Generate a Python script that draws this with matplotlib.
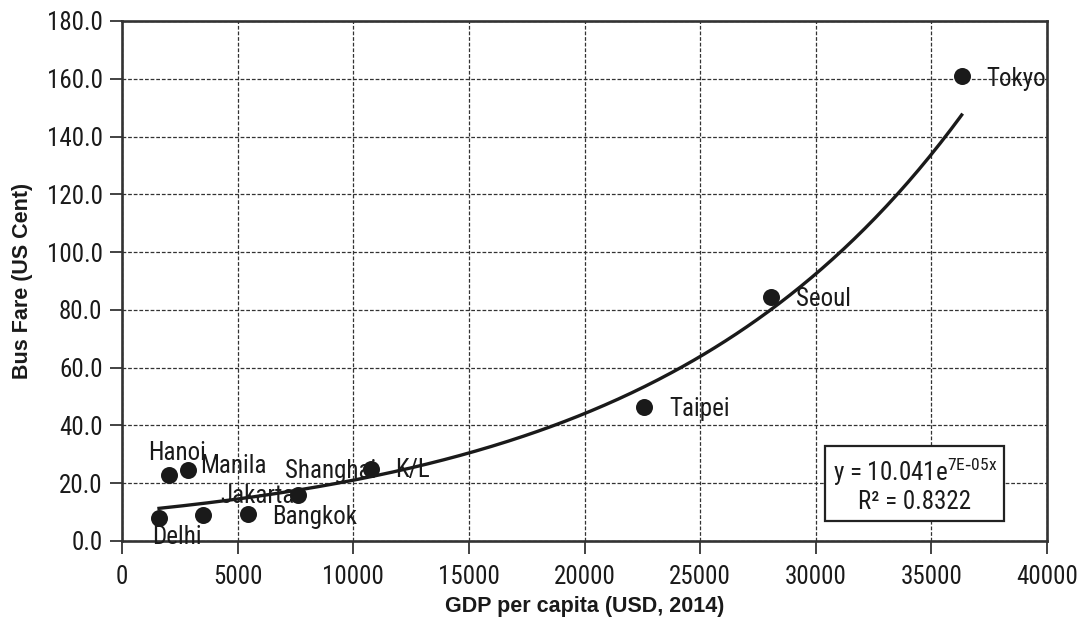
import numpy as np
import matplotlib
matplotlib.use("Agg")
import matplotlib.pyplot as plt
from matplotlib import font_manager

# City data: GDP per capita (USD, 2014) vs bus fare (US cent)
cities = ["Delhi", "Hanoi", "Manila", "Jakarta", "Bangkok", "Shanghai",
          "K/L", "Taipei", "Seoul", "Tokyo"]
gdp = [1600, 2030, 2870, 3520, 5430, 7600, 10750, 22570, 28060, 36310]
fare = [7.8, 22.8, 24.6, 8.9, 9.2, 15.9, 25.0, 46.3, 84.5, 161.0]

# Exponential trend y = a * exp(b * x)
trend_a = 10.041
trend_b = 7.4e-05

x_ticks = [0, 5000, 10000, 15000, 20000, 25000, 30000, 35000, 40000]
y_ticks = [0, 20, 40, 60, 80, 100, 120, 140, 160, 180]

# pick a condensed sans face if one is available
names = {f.name for f in font_manager.fontManager.ttflist}
narrow = "Liberation Sans"
for cand in ["Liberation Sans Narrow", "Arial Narrow", "Roboto Condensed",
             "Archivo Narrow", "PT Sans Narrow", "Pragati Narrow",
             "Open Sans Condensed", "Encode Sans Condensed"]:
    if cand in names:
        narrow = cand
        break
plt.rcParams["font.family"] = [narrow, "DejaVu Sans"]

TXT = "#1a1a1a"

fig = plt.figure(figsize=(10.86, 6.28), dpi=100)
ax = fig.add_axes([122 / 1086, 1 - 541 / 628, 925 / 1086, 520 / 628])

ax.set_xlim(0, 40000)
ax.set_ylim(0, 180)
ax.set_xticks(x_ticks)
ax.set_yticks(y_ticks)
ax.set_xticklabels([str(v) for v in x_ticks])
ax.set_yticklabels([f"{v:.1f}" for v in y_ticks])
ax.tick_params(labelsize=18, colors="#222222", length=9, width=1.2, direction="out", pad=5)
ax.tick_params(axis="x", pad=8)
for lab in ax.get_xticklabels() + ax.get_yticklabels():
    lab.set_color(TXT)

ax.grid(True, color="#333333", linestyle=(0, (3, 1.5)), linewidth=0.9)
ax.set_axisbelow(True)
for s in ax.spines.values():
    s.set_color("#333333")
    s.set_linewidth(1.9)

# trend curve
xs = np.linspace(min(gdp), max(gdp), 300)
ax.plot(xs, trend_a * np.exp(trend_b * xs), color=TXT, lw=2.4, zorder=3)

ax.scatter(gdp, fare, s=150, color=TXT, zorder=4, linewidths=0)

# label offsets in points (dx, dy)
offsets = {
    "Delhi": (-5, -13),
    "Hanoi": (-15, 16),
    "Manila": (8.6, 3),
    "Jakarta": (12, 14),
    "Bangkok": (18, -1.5),
    "Shanghai": (-9, 17),
    "K/L": (18, -1),
    "Taipei": (18, -1),
    "Seoul": (18, -1.5),
    "Tokyo": (18, -2),
}
for name, x, y in zip(cities, gdp, fare):
    dx, dy = offsets[name]
    ax.annotate(name, (x, y), xytext=(dx, dy), textcoords="offset points",
                ha="left", va="center", fontsize=18, color=TXT, zorder=5)

ax.text(0.857, 0.108, "y = 10.041e$^{\\mathregular{7E\\text{-}05x}}$\nR² = 0.8322",
        transform=ax.transAxes, ha="center", va="center", fontsize=18,
        linespacing=1.1, color=TXT, zorder=6,
        bbox=dict(boxstyle="square,pad=0.3", fc="white", ec="#222222", lw=1.6))

ax.set_xlabel("GDP per capita (USD, 2014)", fontsize=15.5, fontweight="bold",
              family="Liberation Sans", labelpad=5, color=TXT)
ax.set_ylabel("Bus Fare (US Cent)", fontsize=15.5, fontweight="bold",
              family="Liberation Sans", labelpad=10, color=TXT)

fig.savefig("out.png", dpi=100)
